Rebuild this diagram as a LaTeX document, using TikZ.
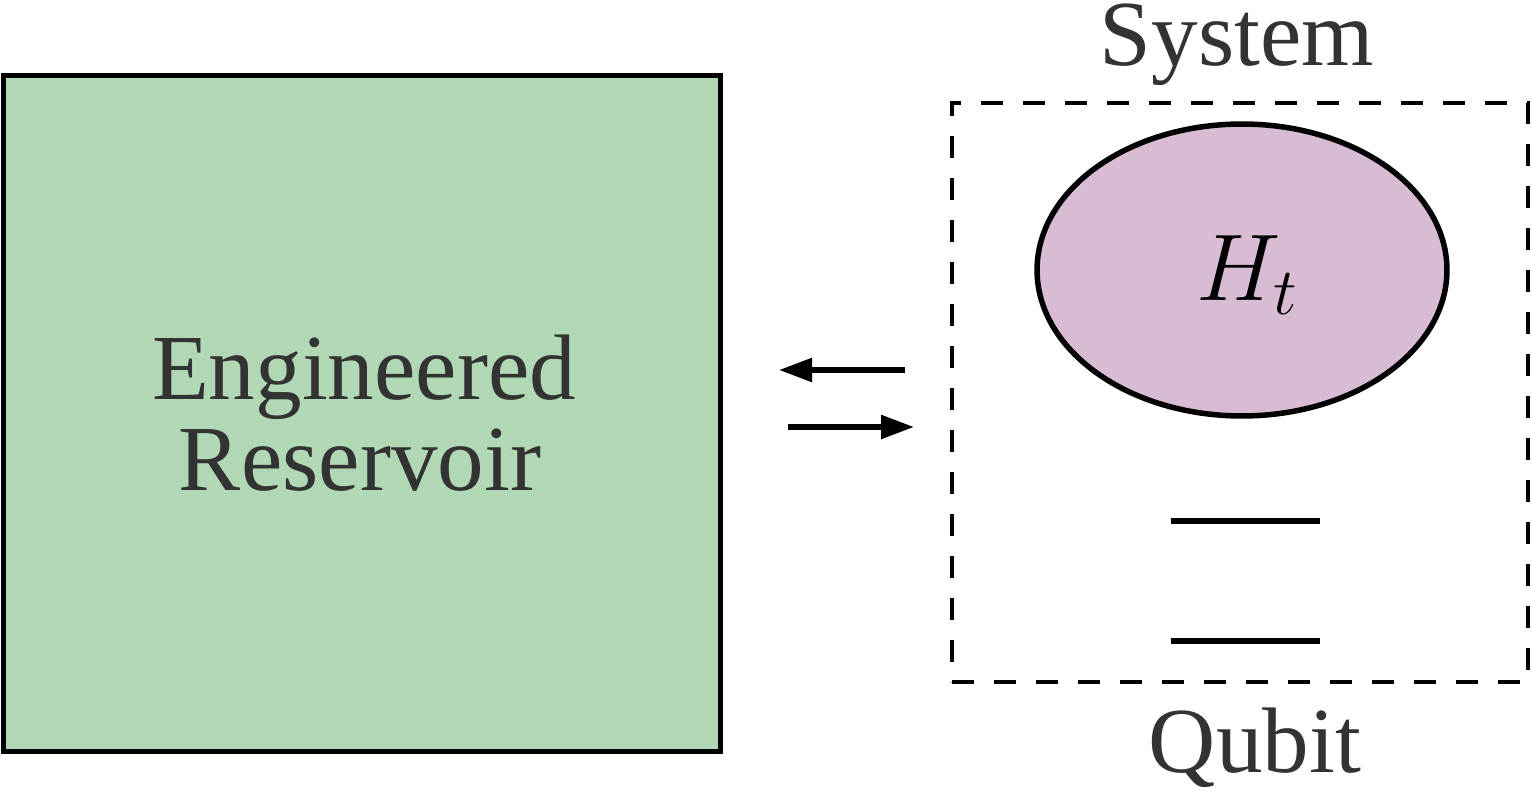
\RequirePackage{fix-cm}
\documentclass[tikz,border=0pt]{standalone}
\usepackage{fontspec}
\setmainfont{Liberation Serif}
\usetikzlibrary{shapes.geometric,arrows.meta}
\definecolor{resgreen}{RGB}{176,216,180}
\definecolor{syspink}{RGB}{216,188,212}
\definecolor{labelgray}{RGB}{51,51,51}
\begin{document}
\begin{tikzpicture}[x=0.02cm,y=-0.02cm,
  lbl/.style={text=labelgray, font=\fontsize{53}{53}\selectfont, inner sep=0pt, outer sep=0pt, anchor=base},
  resbox/.style={draw=black, line width=0.11cm, fill=resgreen, minimum width=14.34cm, minimum height=13.52cm, inner sep=0pt, outer sep=0pt},
  sysbox/.style={draw=black, line width=0.09cm, dash pattern=on 0.44cm off 0.4cm, minimum width=11.52cm, minimum height=11.58cm, inner sep=0pt, outer sep=0pt},
  hamil/.style={ellipse, draw=black, line width=0.11cm, fill=syspink, minimum width=8.2cm, minimum height=5.84cm, inner sep=0pt, outer sep=0pt},
  flow/.style={line width=0.11cm, -{Triangle[length=0.66cm,width=0.46cm]}},
  level/.style={line width=0.12cm}]
\useasboundingbox (0,0) rectangle (1532,794);
% reservoir
\node[resbox] (res) at (362,413.5) {};
\node[lbl] (eng) at (364,399) {Engineered};
\node[lbl] (rsv) at (360,490) {Reservoir};
% system box
\node[sysbox] (sys) at (1240,392.5) {};
\node[lbl] (systxt) at (1237,66) {System};
\node[lbl] (qubtxt) at (1255,772) {Qubit};
% Hamiltonian
\node[hamil] (ham) at (1242,270) {};
\node[inner sep=0pt, outer sep=0pt, anchor=base, font=\fontsize{54}{54}\selectfont] (ht) at (1247,300) {$H_t$};
% qubit levels
\coordinate (l1a) at (1171,521);
\coordinate (l1b) at (1320,521);
\coordinate (l2a) at (1171,641);
\coordinate (l2b) at (1320,641);
\draw[level] (l1a) -- (l1b);
\draw[level] (l2a) -- (l2b);
% arrows
\coordinate (a1s) at (905,370);
\coordinate (a1e) at (779,370);
\coordinate (a2s) at (788,427);
\coordinate (a2e) at (914,427);
\draw[flow] (a1s) -- (a1e);
\draw[flow] (a2s) -- (a2e);
\end{tikzpicture}
\end{document}
